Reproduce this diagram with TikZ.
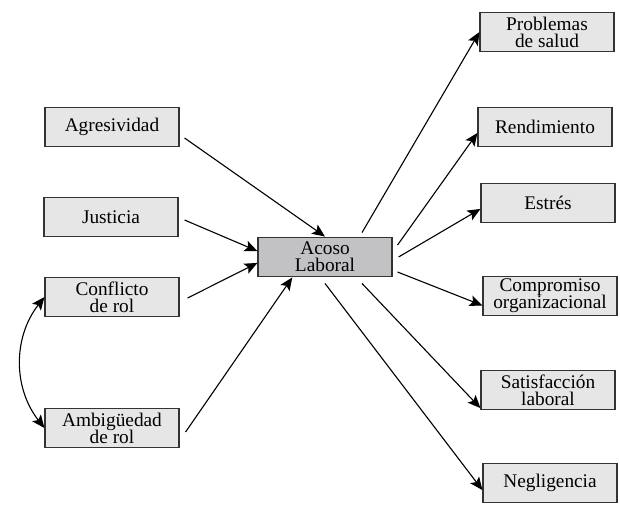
\documentclass[tikz,border=0pt]{standalone}
\usepackage{fontspec}
\setmainfont{Liberation Serif}
\usepackage{xcolor}
\usepackage{tikz}
\usetikzlibrary{arrows.meta}

\definecolor{boxgray}{HTML}{E6E6E6}
\definecolor{midgray}{HTML}{C2C2C5}
\newcommand{\boxfont}{\rmfamily\fontsize{10.5}{9.3}\selectfont\lineskiplimit=-4pt}

\begin{document}
\begin{tikzpicture}[x=0.0191cm, y=-0.0191cm, >={Stealth[length=7pt,width=6pt,inset=1.5pt]}, line width=0.6pt,
  factor/.style={rectangle, draw=black!80, fill=boxgray, minimum width=2.56cm, minimum height=0.76cm, inner sep=1pt, align=center, font=\boxfont},
  central/.style={factor, fill=midgray}]

\useasboundingbox (0,0) rectangle (620,511);

% 
\node[factor] (agr) at (112, 127) {Agresividad};
\node[factor] (jus) at (111, 217) {Justicia};
\node[factor] (con) at (112, 297) {Conflicto\\de rol};
\node[factor] (amb) at (112, 428) {Ambigüedad\\de rol};

% 
\node[central] (aco) at (325, 257) {Acoso\\Laboral};

% 
\node[factor] (pro) at (547, 32) {Problemas\\de salud};
\node[factor] (ren) at (545, 127) {Rendimiento};
\node[factor] (est) at (548, 203) {Estrés};
\node[factor] (com) at (550, 296) {Compromiso\\organizacional};
\node[factor] (sat) at (548, 390) {Satisfacción\\laboral};
\node[factor] (neg) at (550, 483) {Negligencia};

% 
\draw[->] (agr.east) ++(5,11) -- (aco.north);
\draw[->] (jus.east) ++(6,3) -- (aco.175);
\draw[->] (con.east) ++(8,1) -- (aco.185);
\draw[->] (amb.east) ++(6,4) -- (aco.212);
\draw[<->] (con.west) to[bend right=38] (amb.west);

% 
\draw[->] (aco.north) ++(37,-4) -- (pro.west);
\draw[->] (aco.east) ++(5,-12) -- (ren.185);
\draw[->] (aco.east) ++(6,0) -- (est.185);
\draw[->] (aco.east) ++(5,15) -- (com.188);
\draw[->] (aco.south) ++(37,6) -- (sat.195);
\draw[->] (aco.south) ++(0,6) -- (neg.186);

\end{tikzpicture}
\end{document}
